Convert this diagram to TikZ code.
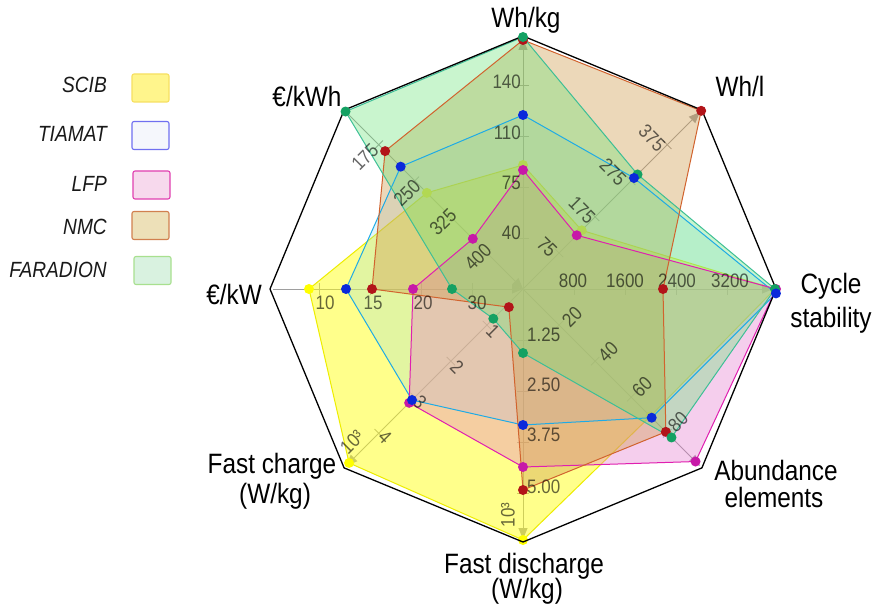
\documentclass[tikz,border=0pt]{standalone}
\usepackage{fontspec}
\setmainfont{Liberation Sans}[FakeStretch=0.87]
\usetikzlibrary{arrows.meta,calc}
\definecolor{scibF}{rgb}{1,1,0.1}
\definecolor{scibL}{rgb}{0.93,0.93,0.0}
\definecolor{scibD}{rgb}{1,1,0}
\definecolor{tiaF}{rgb}{0.55,0.85,0.9}
\definecolor{tiaL}{rgb}{0.12,0.67,0.9}
\definecolor{tiaD}{rgb}{0.04,0.16,0.86}
\definecolor{lfpF}{rgb}{0.9,0.45,0.8}
\definecolor{lfpL}{rgb}{0.88,0.12,0.69}
\definecolor{lfpD}{rgb}{0.78,0.1,0.66}
\definecolor{nmcF}{rgb}{0.82,0.62,0.32}
\definecolor{nmcL}{rgb}{0.82,0.39,0.18}
\definecolor{nmcD}{rgb}{0.7,0.08,0.1}
\definecolor{farF}{rgb}{0.4,0.9,0.45}
\definecolor{farL}{rgb}{0.24,0.75,0.59}
\definecolor{farD}{rgb}{0.08,0.63,0.39}
\definecolor{axisgray}{rgb}{0.62,0.62,0.62}
\newcommand\mkseries[9]{%
  \coordinate (#1-1) at (#2);\coordinate (#1-2) at (#3);%
  \coordinate (#1-3) at (#4);\coordinate (#1-4) at (#5);%
  \coordinate (#1-5) at (#6);\coordinate (#1-6) at (#7);%
  \coordinate (#1-7) at (#8);\coordinate (#1-8) at (#9);}
\newcommand\seriesfill[2]{\fill[#2] (#1-1) -- (#1-2) -- (#1-3) -- (#1-4) -- (#1-5) -- (#1-6) -- (#1-7) -- (#1-8) -- cycle;}
\newcommand\seriesline[2]{\draw[#2] (#1-1) -- (#1-2) -- (#1-3) -- (#1-4) -- (#1-5) -- (#1-6) -- (#1-7) -- (#1-8) -- cycle;}
\newcommand\seriesdots[2]{\foreach \i in {1,...,8}{\fill[#2] (#1-\i) circle (5pt);}}
\begin{document}
\begin{tikzpicture}[x=1pt,y=1pt,
  axlab/.style={font=\fontsize{28}{33}\selectfont, inner sep=0, anchor=base},
  ticklab/.style={font=\fontsize{19.5}{22}\selectfont, text=black, text opacity=0.6, inner sep=0},
  leglab/.style={font=\fontsize{22}{26}\selectfont\itshape, text=black!90, inner sep=0, anchor=east},
  legbox/.style={minimum width=37pt, minimum height=28pt, rounded corners=2pt, line width=1.1pt, inner sep=0},
  axisline/.style={draw=axisgray, line width=0.9pt},
  axtip/.style={-{Triangle[length=11pt,width=9pt]}},
  tickmark/.style={draw=axisgray, line width=0.8pt},
  octframe/.style={draw=black, line width=1.3pt, line join=miter},
  sline/.style={line width=1pt},
]
\useasboundingbox (0,0) rectangle (883,614);
\fill[white] (0,0) rectangle (883,614);

\begin{scope}[shift={(523,325)}]
  \coordinate (O) at (0,0);
  \foreach \a/\n in {90/whkg,45/whl,0/cyc,-45/abd,-90/fdis,-135/fch,180/ekw,135/ekwh}{
    \coordinate (V\n) at (\a:253);
    \coordinate (T\n) at (\a:250);
  }
  % axes
  \foreach \n in {whkg,whl,cyc,abd,fdis,fch}{\draw[axisline,axtip,axisgray] (O) -- (T\n);}
  \foreach \n in {ekw,ekwh}{\draw[axisline,axtip,axisgray] (T\n) -- (O);}
  \foreach \a in {90,45,0,-45,-90,-135,180,135}{
    \foreach \r in {51,102,153,204}{
      \draw[tickmark] ($(\a:\r)+(\a+90:6)$) -- ($(\a:\r)+(\a-90:6)$);
    }
  }
  % series data: Wh/kg, Wh/l, Cycle, Abundance, Fast discharge, Fast charge, EUR/kW, EUR/kWh
  \mkseries{scib}{90:124}{45:83}{0:252}{-45:180}{-90:251}{-135:246}{180:214}{135:136}
  \mkseries{tia}{90:174}{45:157}{-1:253}{-45:182}{-90:136}{-135:157}{180:177}{135:173}
  \mkseries{lfp}{90:119}{45:76}{0:253}{-45:244}{-90:178}{-135:161}{180:110}{135:71}
  \mkseries{nmc}{90:249}{45:252}{0:140}{-45:202}{-90:201}{-128:23}{180:151}{135:195}
  \mkseries{far}{90:252}{45:162}{0:252}{-45:210}{-90:64}{-135:42}{180:71}{135:251}
\end{scope}

% SCIB first (its dots lie under the later fills)
\seriesfill{scib}{scibF,fill opacity=0.5}
\seriesline{scib}{scibL,sline}
\seriesdots{scib}{scibD}
% other fills
\seriesfill{tia}{tiaF,fill opacity=0.25}
\seriesfill{lfp}{lfpF,fill opacity=0.35}
\seriesfill{nmc}{nmcF,fill opacity=0.4}
\seriesfill{far}{farF,fill opacity=0.35}
% outlines
\seriesline{tia}{tiaL,sline}
\seriesline{lfp}{lfpL,sline}
\seriesline{nmc}{nmcL,sline}
\seriesline{far}{farL,sline}

% tick labels
\node[ticklab,anchor=east] (wk1) at (521,381) {40};
\node[ticklab,anchor=east] (wk2) at (521,431) {75};
\node[ticklab,anchor=east] (wk3) at (521,481) {110};
\node[ticklab,anchor=east] (wk4) at (521,532) {140};
\node[ticklab,rotate=-45] (wl1) at (547,367) {75};
\node[ticklab,rotate=-45] (wl2) at (582,404) {175};
\node[ticklab,rotate=-45] (wl3) at (613,442) {275};
\node[ticklab,rotate=-45] (wl4) at (652,476) {375};
\node[ticklab] (cy1) at (573,333) {800};
\node[ticklab] (cy2) at (625,333) {1600};
\node[ticklab] (cy3) at (677,333) {2400};
\node[ticklab] (cy4) at (730,333) {3200};
\node[ticklab,rotate=45] (ab1) at (572,297) {20};
\node[ticklab,rotate=45] (ab2) at (608,262) {40};
\node[ticklab,rotate=45] (ab3) at (642,227) {60};
\node[ticklab,rotate=45] (ab4) at (678,192) {80};
\node[ticklab,anchor=west] (fd1) at (527,279) {1.25};
\node[ticklab,anchor=west] (fd2) at (527,229) {2.50};
\node[ticklab,anchor=west] (fd3) at (527,179) {3.75};
\node[ticklab,anchor=west] (fd4) at (527,127) {5.00};
\node[ticklab,rotate=90] (fd5) at (508,99) {10³};
\node[ticklab,rotate=-45] (fc1) at (493,283) {1};
\node[ticklab,rotate=-45] (fc2) at (457,247) {2};
\node[ticklab,rotate=-45] (fc3) at (420,212) {3};
\node[ticklab,rotate=-45] (fc4) at (385,177) {4};
\node[ticklab,rotate=45] (fc5) at (352,172) {10³};
\node[ticklab] (kw1) at (325,311) {10};
\node[ticklab] (kw2) at (373,311) {15};
\node[ticklab] (kw3) at (423,311) {20};
\node[ticklab] (kw4) at (477,311) {30};
\node[ticklab,rotate=45] (kh1) at (365,457) {175};
\node[ticklab,rotate=45] (kh2) at (407,421) {250};
\node[ticklab,rotate=45] (kh3) at (443,392) {325};
\node[ticklab,rotate=45] (kh4) at (478,357) {400};

% frame
\draw[octframe] (Vwhkg) -- (Vwhl) -- (Vcyc) -- (Vabd) -- (Vfdis) -- (Vfch) -- (Vekw) -- (Vekwh) -- cycle;
% dots
\seriesdots{lfp}{lfpD}
\seriesdots{nmc}{nmcD}
\seriesdots{far}{farD}
\seriesdots{tia}{tiaD}

% axis labels
\node[axlab] (Lwhkg) at (526,586) {Wh/kg};
\node[axlab] (Lwhl) at (740,517) {Wh/l};
\node[axlab] (Lcyc1) at (831,321) {Cycle};
\node[axlab] (Lcyc2) at (831,287) {stability};
\node[axlab] (Labd1) at (776,134) {Abundance};
\node[axlab] (Labd2) at (774,107) {elements};
\node[axlab] (Lfd1) at (524,41) {Fast discharge};
\node[axlab] (Lfd2) at (527,16) {(W/kg)};
\node[axlab] (Lfc1) at (272,141) {Fast charge};
\node[axlab] (Lfc2) at (275,111) {(W/kg)};
\node[axlab] (Lekw) at (234,309) {€/kW};
\node[axlab] (Lekwh) at (307,507) {€/kWh};

% legend
\node[legbox,fill={rgb,1:red,1;green,0.96;blue,0.55},draw={rgb,1:red,0.97;green,0.88;blue,0.38}] (b1) at (150.5,526) {};
\node[legbox,fill={rgb,1:red,0.96;green,0.97;blue,0.99},draw={rgb,1:red,0.44;green,0.44;blue,0.94}] (b2) at (150.5,478.5) {};
\node[legbox,fill={rgb,1:red,0.97;green,0.85;blue,0.93},draw={rgb,1:red,0.88;green,0.25;blue,0.69}] (b3) at (151.5,429) {};
\node[legbox,fill={rgb,1:red,0.93;green,0.88;blue,0.72},draw={rgb,1:red,0.82;green,0.5;blue,0.31}] (b4) at (150.5,388.5) {};
\node[legbox,fill={rgb,1:red,0.85;green,0.95;blue,0.88},draw={rgb,1:red,0.66;green,0.88;blue,0.56}] (b5) at (152.5,343.5) {};
\node[leglab] (l1) at (107,529) {SCIB};
\node[leglab] (l2) at (107,480) {TIAMAT};
\node[leglab] (l3) at (107,430) {LFP};
\node[leglab] (l4) at (107,387) {NMC};
\node[leglab] (l5) at (107,344) {FARADION};
\end{tikzpicture}
\end{document}
